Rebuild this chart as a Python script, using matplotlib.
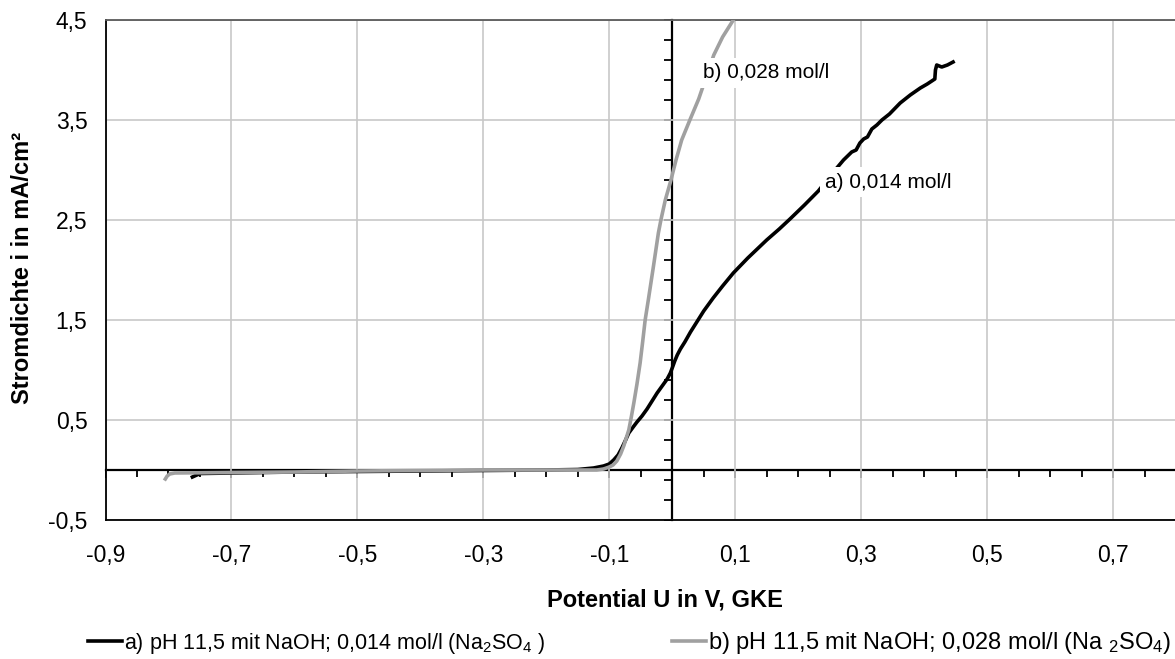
import numpy as np
import matplotlib
matplotlib.use("Agg")
import matplotlib.pyplot as plt
from matplotlib.ticker import FixedLocator, FuncFormatter
from matplotlib.lines import Line2D

plt.rcParams["font.family"] = ["Liberation Sans", "DejaVu Sans"]
plt.rcParams["mathtext.fontset"] = "custom"
plt.rcParams["mathtext.rm"] = "Liberation Sans"
plt.rcParams["mathtext.it"] = "Liberation Sans:italic"
plt.rcParams["mathtext.bf"] = "Liberation Sans:bold"
plt.rcParams["mathtext.default"] = "regular"

# Curve a) pH 11,5 with NaOH, 0,014 mol/l Na2SO4
u_a = [-0.762, -0.755, -0.749, -0.70, -0.60, -0.50, -0.40, -0.30, -0.20, -0.15,
       -0.125, -0.109, -0.100, -0.093, -0.086, -0.080, -0.074, -0.069, -0.062, -0.056,
       -0.048, -0.040, -0.032, -0.024, -0.016, -0.008, -0.003, 0.000, 0.004, 0.008,
       0.013, 0.020, 0.029, 0.039, 0.050, 0.065, 0.080, 0.097, 0.120, 0.150,
       0.170, 0.187, 0.210, 0.232, 0.252, 0.272, 0.285, 0.292, 0.298, 0.304,
       0.310, 0.317, 0.325, 0.333, 0.345, 0.362, 0.378, 0.394, 0.405, 0.417,
       0.418, 0.420, 0.424, 0.428, 0.437, 0.446]
i_a = [-0.07, -0.05, -0.035, -0.03, -0.02, -0.015, -0.01, -0.005, 0.0, 0.005,
       0.02, 0.04, 0.06, 0.10, 0.15, 0.22, 0.30, 0.37, 0.43, 0.48,
       0.54, 0.61, 0.69, 0.77, 0.84, 0.91, 0.97, 1.02, 1.09, 1.15,
       1.21, 1.28, 1.38, 1.48, 1.59, 1.72, 1.84, 1.97, 2.12, 2.30,
       2.41, 2.51, 2.65, 2.79, 2.95, 3.10, 3.18, 3.20, 3.27, 3.31,
       3.33, 3.41, 3.45, 3.50, 3.56, 3.67, 3.75, 3.82, 3.86, 3.91,
       4.00, 4.05, 4.04, 4.03, 4.05, 4.08]

# Curve b) pH 11,5 with NaOH, 0,028 mol/l Na2SO4
u_b = [-0.805, -0.802, -0.798, -0.79, -0.70, -0.60, -0.50, -0.40, -0.30, -0.20,
       -0.12, -0.109, -0.100, -0.094, -0.088, -0.082, -0.077, -0.073, -0.069, -0.065,
       -0.061, -0.056, -0.051, -0.047, -0.043, -0.038, -0.030, -0.022, -0.018, -0.011,
       -0.002, 0.006, 0.015, 0.028, 0.042, 0.054, 0.066, 0.080, 0.097, 0.100]
i_b = [-0.09, -0.06, -0.04, -0.03, -0.025, -0.02, -0.01, -0.005, 0.0, 0.0,
       0.0, 0.01, 0.03, 0.05, 0.09, 0.16, 0.24, 0.32, 0.40, 0.53,
       0.67, 0.86, 1.07, 1.28, 1.50, 1.70, 2.03, 2.37, 2.50, 2.70,
       2.90, 3.10, 3.30, 3.50, 3.71, 3.93, 4.15, 4.33, 4.50, 4.53]

label_a = "a) pH 11,5 mit NaOH; 0,014 mol/l (Na$_2$SO$_4$ )"
label_b = "b) pH 11,5 mit NaOH; 0,028 mol/l (Na $_2$SO$_4$)"
note_a = "a) 0,014 mol/l"
note_b = "b) 0,028 mol/l"

x_min, x_max = -0.9, 0.8
y_min, y_max = -0.5, 4.5
x_labels = np.round(np.arange(-0.9, 0.71, 0.2), 2)
y_labels = np.round(np.arange(-0.5, 4.51, 1.0), 2)

W, H = 1175, 659
fig = plt.figure(figsize=(W / 100, H / 100), dpi=100)
fig.patch.set_facecolor("white")
rect = [105.5 / W, (H - 520) / H, (1176 - 105.5) / W, 500 / H]

# axes crossing at the origin (drawn underneath)
ax0 = fig.add_axes(rect, zorder=1)
ax0.set_xlim(x_min, x_max)
ax0.set_ylim(y_min, y_max)
ax0.patch.set_visible(False)
for s in ("top", "right"):
    ax0.spines[s].set_visible(False)
ax0.spines["left"].set_position(("data", 0))
ax0.spines["bottom"].set_position(("data", 0))
for s in ("left", "bottom"):
    ax0.spines[s].set_color("black")
    ax0.spines[s].set_linewidth(1.6)
ax0.xaxis.set_major_locator(FixedLocator(x_labels))
ax0.xaxis.set_minor_locator(FixedLocator(np.round(np.arange(-0.9, 0.81, 0.05), 3)))
ax0.yaxis.set_major_locator(FixedLocator(np.round(np.arange(-0.5, 4.51, 0.2), 2)))
ax0.tick_params(axis="x", which="major", direction="out", length=6, width=1.3,
                color="black", labelbottom=False)
ax0.tick_params(axis="x", which="minor", direction="out", length=5, width=1.3,
                color="black", labelbottom=False)
ax0.tick_params(axis="y", which="major", direction="out", length=6, width=1.3,
                color="black", labelleft=False)

# main axes with grid, frame, labels and curves
ax = fig.add_axes(rect, zorder=2)
ax.patch.set_visible(False)
ax.set_xlim(x_min, x_max)
ax.set_ylim(y_min, y_max)
ax.set_axisbelow(True)
ax.xaxis.set_major_locator(FixedLocator(x_labels))
ax.yaxis.set_major_locator(FixedLocator(y_labels))
fmt = FuncFormatter(lambda v, p: f"{v:.1f}".replace(".", ","))
ax.xaxis.set_major_formatter(fmt)
ax.yaxis.set_major_formatter(fmt)
ax.grid(True, color="#c8c8c8", linewidth=1.2)
ax.tick_params(axis="both", length=0, labelsize=16.5, labelcolor="black")
ax.tick_params(axis="y", pad=13)
ax.tick_params(axis="x", pad=17)
ax.spines["right"].set_visible(False)
ax.spines["top"].set_color("#5a5a5a")
ax.spines["top"].set_linewidth(1.3)
for s in ("left", "bottom"):
    ax.spines[s].set_color("black")
    ax.spines[s].set_linewidth(1.3)

color_a, color_b = "black", "#a0a0a0"
ax.plot(u_a, i_a, color=color_a, linewidth=2.6, solid_joinstyle="round", zorder=3)
ax.plot(u_b, i_b, color=color_b, linewidth=2.6, solid_joinstyle="round", zorder=3)

box = dict(facecolor="white", edgecolor="none", pad=4)
ax.text(0.049, 3.97, note_b, fontsize=15, va="center", ha="left", bbox=box, zorder=5)
ax.text(0.243, 2.88, note_a, fontsize=15, va="center", ha="left", bbox=box, zorder=5)

fig.text(665 / W, 1 - 600 / H, "Potential U in V, GKE", fontsize=17,
         fontweight="bold", ha="center", va="center")
fig.text(23 / W, 1 - 268 / H, "Stromdichte i in mA/cm²", fontsize=17,
         fontweight="bold", ha="center", va="center", rotation=90)

leg_kw = dict(frameon=False, handletextpad=0.1,
              borderpad=0, borderaxespad=0, loc="center left")
fig.legend([Line2D([], [], color=color_a, linewidth=2.6)], [label_a],
           bbox_to_anchor=(88 / W, 1 - 643 / H), fontsize=15.5,
           handlelength=34 / 21.5, **leg_kw)
fig.legend([Line2D([], [], color=color_b, linewidth=2.6)], [label_b],
           bbox_to_anchor=(672 / W, 1 - 643 / H), fontsize=17,
           handlelength=34 / 23.6, **leg_kw)

fig.savefig("out.png", dpi=100, facecolor="white")
